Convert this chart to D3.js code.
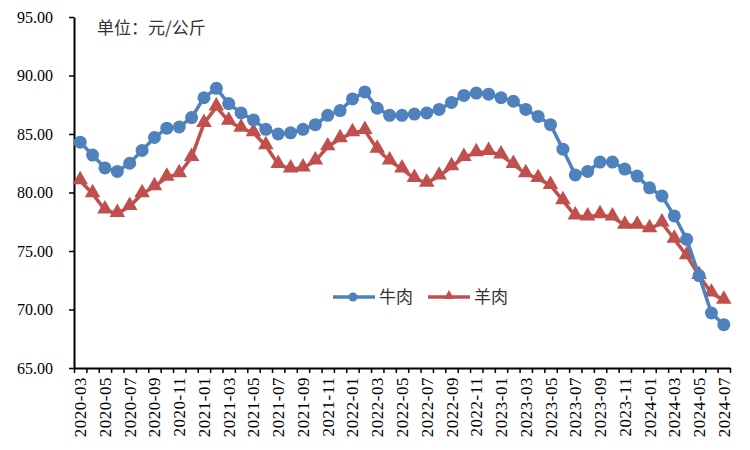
<html>
<script src='https://d3js.org/d3.v7.min.js'></script>
<style>
    body {
        margin: 0;
        overflow: hidden;
        background: #fff;
    }
</style>

<body>
    <svg id='chart' width=750 height=450></svg>
</body>

<script>
    // months shown on the x axis
    var months = ['2020-03', '2020-04', '2020-05', '2020-06', '2020-07', '2020-08', '2020-09', '2020-10', '2020-11', '2020-12',
        '2021-01', '2021-02', '2021-03', '2021-04', '2021-05', '2021-06', '2021-07', '2021-08', '2021-09', '2021-10', '2021-11', '2021-12',
        '2022-01', '2022-02', '2022-03', '2022-04', '2022-05', '2022-06', '2022-07', '2022-08', '2022-09', '2022-10', '2022-11', '2022-12',
        '2023-01', '2023-02', '2023-03', '2023-04', '2023-05', '2023-06', '2023-07', '2023-08', '2023-09', '2023-10', '2023-11', '2023-12',
        '2024-01', '2024-02', '2024-03', '2024-04', '2024-05', '2024-06', '2024-07'];

    // 牛肉
    var beef = [84.3, 83.2, 82.1, 81.8, 82.5, 83.6, 84.7, 85.5, 85.6, 86.4,
        88.1, 88.9, 87.6, 86.8, 86.2, 85.4, 85.0, 85.1, 85.4, 85.8, 86.6, 87.0,
        88.0, 88.6, 87.2, 86.6, 86.6, 86.7, 86.8, 87.1, 87.7, 88.3, 88.5, 88.4,
        88.1, 87.8, 87.1, 86.5, 85.8, 83.7, 81.5, 81.8, 82.6, 82.6, 82.0, 81.4,
        80.4, 79.7, 78.0, 76.0, 72.9, 69.7, 68.7];

    // 羊肉
    var mutton = [81.0, 79.9, 78.5, 78.2, 78.8, 79.9, 80.5, 81.3, 81.6, 83.0,
        85.9, 87.3, 86.1, 85.5, 85.1, 84.0, 82.4, 82.0, 82.1, 82.7, 83.9, 84.6,
        85.1, 85.3, 83.7, 82.7, 82.0, 81.2, 80.8, 81.4, 82.2, 83.0, 83.4, 83.5,
        83.2, 82.4, 81.6, 81.2, 80.6, 79.3, 78.0, 77.9, 78.1, 77.9, 77.2, 77.2,
        76.9, 77.4, 76.0, 74.6, 72.9, 71.4, 70.8];

    var yTicks = [65, 70, 75, 80, 85, 90, 95];

    var blue = '#4f81bd';
    var red = '#c0504d';
    var plotLeft = 74, plotRight = 730, plotTop = 17, plotBottom = 368;

    var svg = d3.select('#chart');

    var x = d3.scaleBand()
        .domain(months)
        .range([plotLeft, plotRight]);

    var xEdge = d3.scaleLinear()
        .domain([0, months.length])
        .range([plotLeft, plotRight]);

    var y = d3.scaleLinear()
        .domain([65, 95])
        .range([plotBottom, plotTop]);

    // y axis
    var yaxis = svg.append('g')
        .attr('transform', 'translate(' + plotLeft + ',0)')
        .call(d3.axisLeft(y).tickValues(yTicks).tickSize(5).tickSizeOuter(0).tickFormat(d3.format('.2f')));
    yaxis.select('.domain').attr('stroke', '#000').attr('stroke-width', 2);
    yaxis.selectAll('.tick line').attr('stroke', '#000').attr('stroke-width', 1.5);
    yaxis.selectAll('.tick text')
        .attr('x', -21)
        .style('font-family', "'Liberation Serif', serif")
        .style('font-size', '16px')
        .attr('fill', '#000');

    // x axis: ticks between months
    var xaxis = svg.append('g')
        .attr('transform', 'translate(0,' + plotBottom + ')')
        .call(d3.axisBottom(xEdge).tickValues(d3.range(months.length + 1)).tickSize(5).tickSizeOuter(0).tickFormat(''));
    xaxis.select('.domain').attr('stroke', '#000').attr('stroke-width', 2);
    xaxis.selectAll('.tick line').attr('stroke', '#000').attr('stroke-width', 1.5);

    // x labels every second month
    svg.append('g')
        .selectAll('text')
        .data(months.filter(function(d, i) { return i % 2 == 0; }))
        .enter()
        .append('text')
        .attr('transform', function(d) {
            return 'translate(' + (x(d) + x.bandwidth() / 2 + 6) + ',' + (plotBottom + 9) + ')rotate(-90)';
        })
        .style('text-anchor', 'end')
        .style('font-family', "'Liberation Serif', serif")
        .style('font-size', '17px')
        .style('letter-spacing', '0.5px')
        .text(function(d) { return d; });

    var line = d3.line()
        .x(function(d, i) { return x(months[i]) + x.bandwidth() / 2; })
        .y(function(d) { return y(d); });

    var tri = d3.symbol().type(d3.symbolTriangle).size(105);
    var triSmall = d3.symbol().type(d3.symbolTriangle).size(45);

    // 羊肉 line
    svg.append('path')
        .datum(mutton)
        .attr('fill', 'none')
        .attr('stroke', red)
        .attr('stroke-width', 3.5)
        .attr('d', line);
    svg.append('g')
        .selectAll('path')
        .data(mutton)
        .enter()
        .append('path')
        .attr('d', tri)
        .attr('fill', red)
        .attr('transform', function(d, i) {
            return 'translate(' + (x(months[i]) + x.bandwidth() / 2) + ',' + (y(d) - 1) + ')';
        });

    // 牛肉 line
    svg.append('path')
        .datum(beef)
        .attr('fill', 'none')
        .attr('stroke', blue)
        .attr('stroke-width', 3.5)
        .attr('d', line);
    svg.append('g')
        .selectAll('circle')
        .data(beef)
        .enter()
        .append('circle')
        .attr('cx', function(d, i) { return x(months[i]) + x.bandwidth() / 2; })
        .attr('cy', function(d) { return y(d); })
        .attr('r', 6.5)
        .attr('fill', blue);

    // unit label
    svg.append('text')
        .attr('x', 97)
        .attr('y', 34)
        .style('font-family', "'Noto Sans CJK SC', sans-serif")
        .style('font-size', '17px')
        .attr('fill', '#333')
        .text('单位：元/公斤');

    // legend
    var legend = svg.append('g').attr('transform', 'translate(333,297)');
    legend.append('line').attr('x1', 0).attr('x2', 42).attr('stroke', blue).attr('stroke-width', 3.5);
    legend.append('circle').attr('cx', 20).attr('r', 4.5).attr('fill', blue);
    legend.append('text').attr('x', 46).attr('y', 6)
        .style('font-family', "'Noto Sans CJK SC', sans-serif").style('font-size', '17px').attr('fill', '#333').text('牛肉');
    legend.append('line').attr('x1', 95).attr('x2', 137).attr('stroke', red).attr('stroke-width', 3.5);
    legend.append('path').attr('d', triSmall).attr('fill', red).attr('transform', 'translate(116,-1)');
    legend.append('text').attr('x', 141).attr('y', 6)
        .style('font-family', "'Noto Sans CJK SC', sans-serif").style('font-size', '17px').attr('fill', '#333').text('羊肉');
</script>

</html>
